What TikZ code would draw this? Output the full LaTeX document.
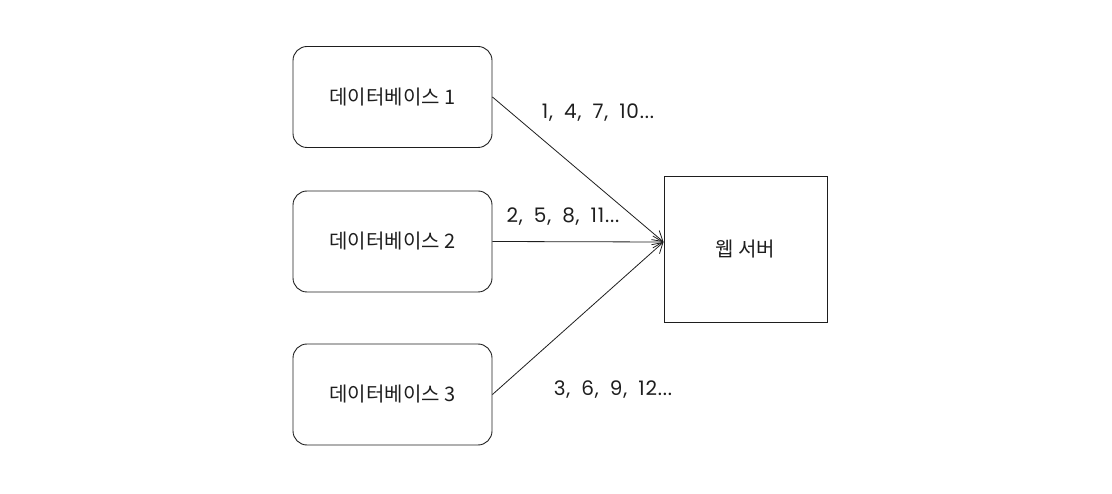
\documentclass[tikz,border=0pt]{standalone}
\usepackage{fontspec}
\setmainfont{Noto Sans CJK KR}
\newfontfamily\numfont{Poppins}[WordSpace=1.8, LetterSpace=4]
\usetikzlibrary{arrows.meta}
\definecolor{ink}{HTML}{1E1E1E}
\tikzset{
  dbbox/.style={draw=ink, line width=0.9pt, rounded corners=14pt, minimum width=199pt, minimum height=101pt, text=ink, font=\fontsize{20}{22}\selectfont},
  srvbox/.style={draw=ink, line width=0.9pt, minimum width=163pt, minimum height=146pt, text=ink, font=\fontsize{20}{22}\selectfont},
  flow/.style={draw=ink, line width=0.8pt, -{Straight Barb[length=10pt, width=12pt]}},
  lbl/.style={text=ink, font=\numfont\fontsize{20}{22}\selectfont}
}
\begin{document}
\begin{tikzpicture}[x=1pt, y=-1pt]
    % Rahmen
    \useasboundingbox (0,0) rectangle (1112,494);
    % Datenbanken
    \node[dbbox] (db1) at (392.5,97) {데이터베이스 1};
    \node[dbbox] (db2) at (392.5,241.5) {데이터베이스 2};
    \node[dbbox] (db3) at (392.5,394.5) {데이터베이스 3};
    % Server
    \node[srvbox] (web) at (745.5,249) {웹 서버};
    \coordinate (tip) at ([yshift=7pt]web.west);
    % Pfeile
    \draw[flow] (db1.east) -- (tip);
    \draw[flow] (db2.east) -- (tip);
    \draw[flow] (db3.east) -- (tip);
    % Beschriftungen
    \node[lbl] (l1) at (598,113) {1, 4, 7, 10...};
    \node[lbl] (l2) at (563,217) {2, 5, 8, 11...};
    \node[lbl] (l3) at (613,390) {3, 6, 9, 12...};
\end{tikzpicture}
\end{document}
